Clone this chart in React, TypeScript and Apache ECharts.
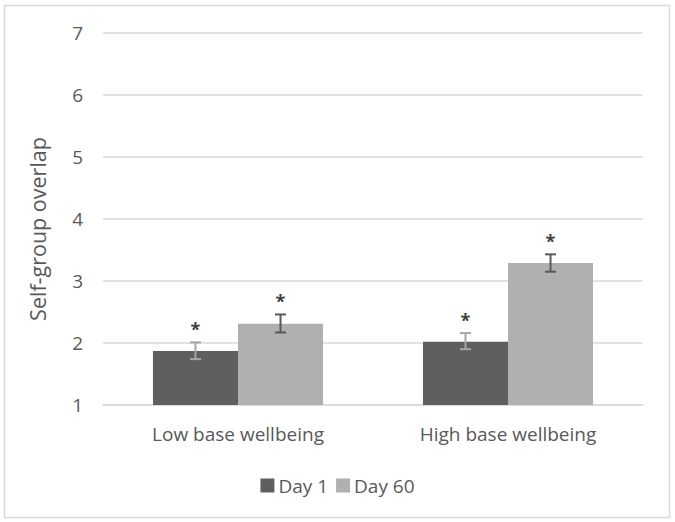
import React, { useEffect, useRef } from "react";
import * as echarts from "echarts";

const categories = ["Low base wellbeing", "High base wellbeing"];
const seriesNames = ["Day 1", "Day 60"];
const day1Values = [1.87, 2.02];
const day60Values = [2.31, 3.29];
const day1ErrLow = [1.74, 1.9];
const day1ErrHigh = [2.01, 2.16];
const day60ErrLow = [2.17, 3.15];
const day60ErrHigh = [2.46, 3.43];
const significance = ["*", "*"];

const FONT = "Open Sans";
const BAR_FRAC = 0.315;

export default function App() {
  const ref = useRef<HTMLDivElement>(null);
  useEffect(() => {
    if (!ref.current) return;
    const chart = echarts.init(ref.current, null, { renderer: "svg" });

    const errData: any[] = [];
    categories.forEach((_, i) => {
      errData.push([i, day1ErrLow[i], day1ErrHigh[i], 0]);
      errData.push([i, day60ErrLow[i], day60ErrHigh[i], 1]);
    });

    chart.setOption({
      animation: false,
      backgroundColor: "#ffffff",
      textStyle: { fontFamily: FONT },
      graphic: [
        {
          type: "rect",
          shape: { x: 4.5, y: 5.5, width: 665, height: 512 },
          style: { fill: "none", stroke: "#d9d9d9", lineWidth: 1.5 },
          silent: true,
          z: -10,
        },
      ],
      grid: { left: 103, right: 32, top: 33, bottom: 117 },
      legend: {
        data: seriesNames,
        top: 471,
        left: "center",
        itemWidth: 14,
        itemHeight: 14,
        itemGap: 8,
        icon: "rect",
        textStyle: { fontSize: 19, color: "#595959", fontFamily: FONT, padding: [0, 0, 0, -1] },
      },
      xAxis: {
        type: "category",
        data: categories,
        axisLine: { lineStyle: { color: "#d9d9d9", width: 1.5 } },
        axisTick: { show: false },
        axisLabel: { fontSize: 19, color: "#595959", margin: 19, fontFamily: FONT },
      },
      yAxis: {
        type: "value",
        min: 1,
        max: 7,
        interval: 1,
        name: "Self-group overlap",
        nameLocation: "middle",
        nameRotate: 90,
        nameGap: 55,
        nameTextStyle: {
          fontSize: 21.5,
          color: "#595959",
          fontFamily: FONT,
          padding: [0, 20, 0, 0],
        },
        axisLine: { show: false },
        axisTick: { show: false },
        axisLabel: { fontSize: 19, color: "#595959", margin: 20, fontFamily: FONT },
        splitLine: { lineStyle: { color: "#d9d9d9", width: 1.5 } },
      },
      series: [
        {
          name: seriesNames[0],
          type: "bar",
          data: day1Values,
          barWidth: BAR_FRAC * 100 + "%",
          barGap: "0%",
          itemStyle: { color: "#5f5f5f" },
        },
        {
          name: seriesNames[1],
          type: "bar",
          data: day60Values,
          barWidth: BAR_FRAC * 100 + "%",
          barGap: "0%",
          itemStyle: { color: "#b0b0b0" },
        },
        {
          type: "custom",
          name: "err",
          data: errData,
          z: 10,
          renderItem: (params: any, api: any) => {
            const cat = api.value(0);
            const lo = api.value(1);
            const hi = api.value(2);
            const which = api.value(3);
            const bandW = api.size([1, 0])[0];
            const bw = bandW * BAR_FRAC;
            const center = api.coord([cat, lo])[0];
            const x = center + (which === 0 ? -bw / 2 : bw / 2);
            const yLo = api.coord([cat, lo])[1];
            const yHi = api.coord([cat, hi])[1];
            const color = which === 0 ? "#a6a6a6" : "#595959";
            const cap = 5.5;
            const st = { stroke: color, lineWidth: 2 };
            return {
              type: "group",
              children: [
                { type: "line", shape: { x1: x, y1: yLo, x2: x, y2: yHi }, style: st },
                { type: "line", shape: { x1: x - cap, y1: yLo, x2: x + cap, y2: yLo }, style: st },
                { type: "line", shape: { x1: x - cap, y1: yHi, x2: x + cap, y2: yHi }, style: st },
                {
                  type: "text",
                  x: x,
                  y: yHi - 13,
                  style: {
                    text: significance[cat],
                    fill: "#404040",
                    fontSize: 18,
                    fontWeight: "bold",
                    fontFamily: FONT,
                    align: "center",
                    verticalAlign: "middle",
                  },
                },
              ],
            };
          },
        },
      ],
    });
    return () => chart.dispose();
  }, []);
  return (
    <div
      ref={ref}
      style={{ position: "absolute", left: 0, top: 0, width: 675, height: 522 }}
    />
  );
}
